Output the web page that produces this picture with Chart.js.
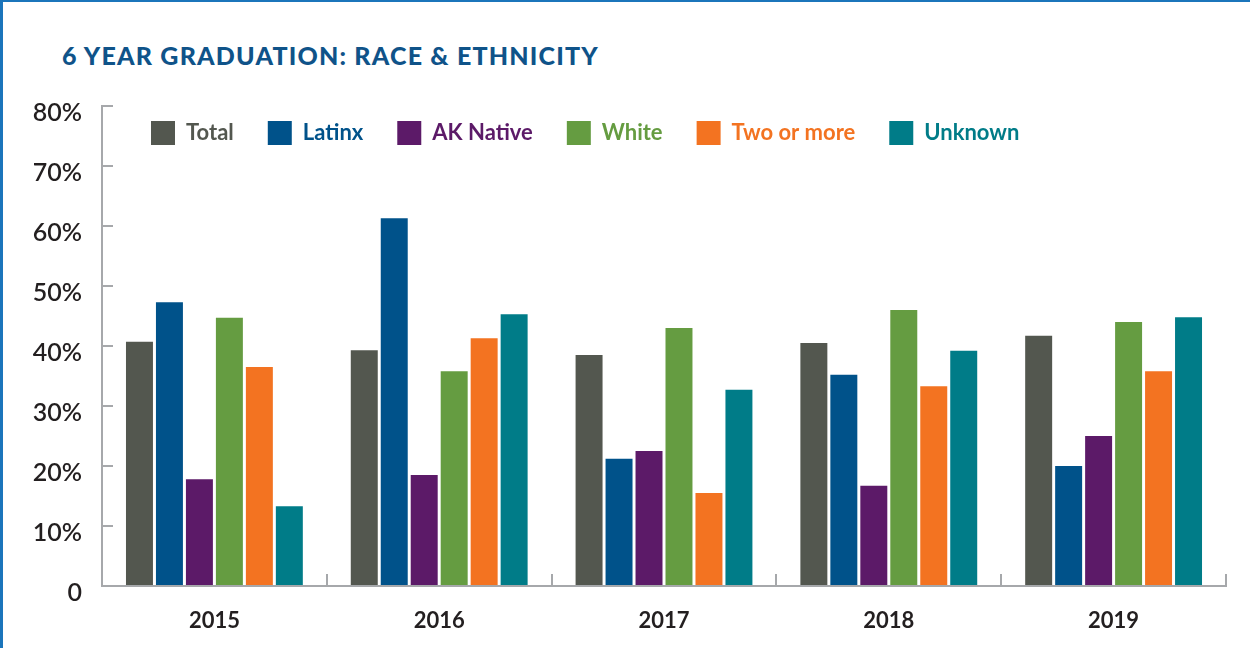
<!DOCTYPE html>
<html>
<head>
<meta charset="utf-8">
<title>6 Year Graduation: Race & Ethnicity</title>
<script src="https://cdn.jsdelivr.net/npm/chart.js@4/dist/chart.umd.min.js"></script>
<style>
  html, body { margin: 0; padding: 0; background: #fff; }
  #wrap {
    position: relative;
    width: 1250px;
    height: 648px;
    overflow: hidden;
  }
  #frame {
    position: absolute;
    left: 0; top: 0;
    width: 1250px; height: 648px;
    box-sizing: border-box;
    border-top: 2px solid #1b75bb;
    border-left: 3px solid #1b75bb;
  }
  #title {
    position: absolute;
    left: 62px;
    top: 40px;
    margin: 0;
    font-family: Lato, sans-serif;
    font-weight: 900;
    font-size: 25px;
    letter-spacing: 1.2px;
    line-height: 30px;
    color: #0f5389;
  }
  #chart { position: absolute; left: 0; top: 0; }
</style>
</head>
<body>
<div id="wrap">
  <div id="frame"></div>
  <h2 id="title">6 YEAR GRADUATION: RACE &amp; ETHNICITY</h2>
  <canvas id="chart" width="1250" height="648"></canvas>
</div>
<script>
// values, in %
const years = ['2015', '2016', '2017', '2018', '2019'];
const total = [40.7, 39.3, 38.5, 40.5, 41.7];
const latinx = [47.3, 61.3, 21.2, 35.2, 20.0];
const akNative = [17.8, 18.5, 22.5, 16.7, 25.0];
const white = [44.7, 35.8, 43.0, 46.0, 44.0];
const twoOrMore = [36.5, 41.3, 15.5, 33.3, 35.8];
const unknown = [13.3, 45.3, 32.7, 39.2, 44.8];

const groups = ['Total', 'Latinx', 'AK Native', 'White', 'Two or more', 'Unknown'];
const colors = ['#53574f', '#00528a', '#5c1a68', '#659c41', '#f37321', '#007c88'];
const series = [total, latinx, akNative, white, twoOrMore, unknown];

const axisColor = '#a6a8ab';
const labelColor = '#231f20';
const legendPad = 34;

// the legend sits inside the plot, so pin it there after layout
const legendShift = {
  id: 'legendShift',
  afterLayout(chart) {
    const lg = chart.legend;
    if (!lg) return;
    const w = lg.width, h = lg.height;
    lg.left = 151 - legendPad;
    lg.top = 121 - legendPad;
    lg.right = lg.left + w;
    lg.bottom = lg.top + h;
  }
};

const chart = new Chart(document.getElementById('chart'), {
  type: 'bar',
  data: {
    labels: years,
    datasets: groups.map((g, i) => ({
      label: g,
      data: series[i],
      backgroundColor: colors[i],
      borderWidth: 0,
      categoryPercentage: 0.8,
      barPercentage: 0.9
    }))
  },
  options: {
    responsive: false,
    animation: false,
    devicePixelRatio: 1,
    layout: { padding: { left: 0, top: 0, right: 24, bottom: 0 } },
    plugins: {
      title: { display: false },
      tooltip: { enabled: false },
      legend: {
        position: 'top',
        align: 'start',
        labels: {
          boxWidth: 24,
          boxHeight: 24,
          padding: legendPad,
          font: { family: 'Lato', size: 22, weight: 'bold' },
          generateLabels(chart) {
            const items = Chart.defaults.plugins.legend.labels.generateLabels(chart);
            items.forEach((it, i) => { it.fontColor = colors[i]; it.lineWidth = 0; });
            return items;
          }
        }
      }
    },
    scales: {
      x: {
        afterFit(scale) { scale.height = 62; },
        border: { display: true, color: axisColor, width: 2 },
        grid: {
          display: true,
          offset: true,
          drawOnChartArea: false,
          drawTicks: true,
          tickLength: -12,
          color: axisColor,
          lineWidth: 2
        },
        ticks: {
          color: labelColor,
          padding: 34,
          font: { family: 'Lato', size: 22, weight: 'bold' }
        }
      },
      y: {
        min: 0,
        max: 80,
        afterFit(scale) { scale.width = 102; },
        border: { display: true, color: axisColor, width: 2 },
        grid: {
          display: true,
          drawOnChartArea: false,
          drawTicks: true,
          tickLength: -11,
          color: axisColor,
          lineWidth: 2
        },
        ticks: {
          stepSize: 10,
          color: labelColor,
          padding: 31,
          labelOffset: 7,
          font: { family: 'Lato', size: 25, weight: '600' },
          callback: v => (v === 0 ? '0' : v + '%')
        }
      }
    }
  },
  plugins: [legendShift]
});

// the plot top (80%) sits at y=106 in the original
chart.options.layout.padding.top += 106 - chart.chartArea.top;
chart.update();
</script>
</body>
</html>
